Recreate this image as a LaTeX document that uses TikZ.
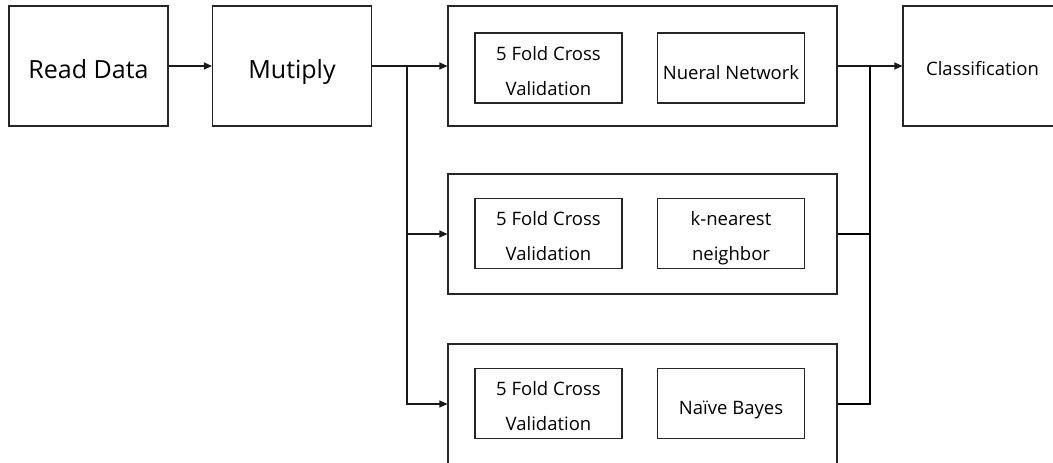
\documentclass[tikz,border=0pt]{standalone}
\usepackage{fontspec}
\setmainfont{Open Sans}
\usetikzlibrary{arrows.meta}

\begin{document}
\begin{tikzpicture}[x=1pt,y=-1pt,
  line width=1.1pt,
  box/.style={draw=black!85,inner sep=0pt,align=center},
  bigbox/.style={box,minimum width=159pt,minimum height=120pt,font=\fontsize{25}{30}\selectfont,text height=24pt,text depth=0pt},
  blockbox/.style={box,minimum width=389pt,minimum height=120pt},
  subbox/.style={box,minimum width=147pt,minimum height=70pt,font=\fontsize{18.5}{35}\selectfont},
  onebox/.style={subbox,text height=22pt,text depth=0pt},
  twobox/.style={subbox,text height=54pt,text depth=0pt},
  arr/.style={-{Triangle[length=8pt,width=7pt]},black!90}]
\clip (0,0) rectangle (1053,463);
\fill[white] (0,0) rectangle (1053,463);
\node [bigbox] (rd) at (88.5,66) {Read Data};
\node [bigbox] (mul) at (292,66) {Mutiply};
\node [blockbox] (m1) at (642.5,66) {};
\node [blockbox] (m2) at (642.5,234) {};
\node [blockbox] (m3) at (642.5,404) {};
\node [twobox] (cv1) at (548.5,68) {5 Fold Cross\\Validation};
\node [onebox] (nn) at (731,68) {Nueral Network};
\node [twobox] (cv2) at (548.5,233.5) {5 Fold Cross\\Validation};
\node [twobox] (knn) at (731,233.5) {k-nearest\\neighbor};
\node [twobox] (cv3) at (548.5,403.5) {5 Fold Cross\\Validation};
\node [onebox] (nb) at (731,403.5) {Naïve Bayes};
\node [bigbox,font=\fontsize{18.5}{35}\selectfont,text height=18pt] (cls) at (982.5,66) {Classification};
\coordinate (jl) at (407,66);
\coordinate (jr) at (870,66);
\draw [arr] (rd) -- (mul);
\draw [arr] (mul) -- (m1);
\draw [arr] (jl) |- (m2);
\draw [arr] (jl) |- (m3);
\draw [arr] (m1) -- (cls);
\draw (m2) -| (jr);
\draw (m3) -| (jr);
\end{tikzpicture}
\end{document}
